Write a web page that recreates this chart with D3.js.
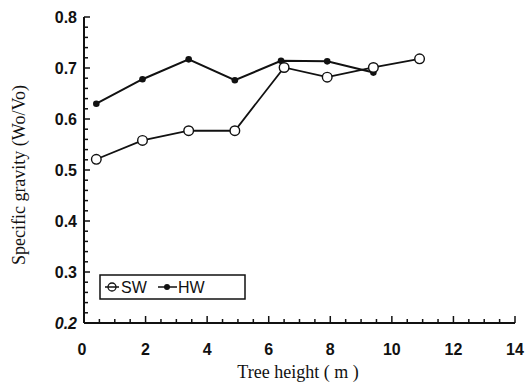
<!DOCTYPE html>
<html>
<head>
<meta charset="utf-8">
<script src="https://cdn.jsdelivr.net/npm/d3@7"></script>
<style>
  html, body { margin: 0; padding: 0; background: #fff; }
  svg { display: block; }
  .tick-label { font-family: "Liberation Sans", Arial, sans-serif; font-size: 16px; font-weight: bold; fill: #111; }
  .axis-title { font-family: "Liberation Serif", "Times New Roman", serif; font-size: 18px; fill: #111; }
  .legend-text { font-family: "Liberation Sans", Arial, sans-serif; font-size: 16px; fill: #111; }
</style>
</head>
<body>
<svg id="chart" width="526" height="385"></svg>
<script>
// Sapwood (SW) and heartwood (HW) specific gravity along tree height
const swHeight = [0.4, 1.9, 3.4, 4.9, 6.5, 7.9, 9.4, 10.9];
const swGravity = [0.521, 0.558, 0.577, 0.577, 0.701, 0.682, 0.701, 0.718];
const hwHeight = [0.4, 1.9, 3.4, 4.9, 6.4, 7.9, 9.4];
const hwGravity = [0.630, 0.678, 0.717, 0.676, 0.714, 0.713, 0.691];

const xTicks = [0, 2, 4, 6, 8, 10, 12, 14];
const yTicks = [0.2, 0.3, 0.4, 0.5, 0.6, 0.7, 0.8];
const yTickLabels = ["0.2", "0.3", "0.4", "0.5", "0.6", "0.7", "0.8"];

const svg = d3.select("#chart");
const x = d3.scaleLinear().domain([0, 14]).range([84, 515]);
const y = d3.scaleLinear().domain([0.2, 0.8]).range([323, 17]);

const ink = "#111";

// X axis: ticks point inward, minor ticks every 0.5 m
const gx = svg.append("g").attr("transform", `translate(0,${y(0.2)})`);
gx.append("line").attr("x1", x(0)).attr("x2", x(14)).attr("stroke", ink).attr("stroke-width", 2);
gx.selectAll(".mt").data(d3.range(0, 14.01, 0.5)).join("line")
  .attr("x1", d => x(d)).attr("x2", d => x(d))
  .attr("y1", 0).attr("y2", d => (Math.abs(d % 2) < 1e-6 ? -7 : -4))
  .attr("stroke", ink).attr("stroke-width", 1.5);
gx.selectAll(".tl").data(xTicks).join("text")
  .attr("class", "tick-label")
  .attr("x", d => x(d) - (d === 0 ? 2 : 0)).attr("y", 32)
  .attr("text-anchor", "middle").text(d => d);

// Y axis: minor ticks every 0.02
const gy = svg.append("g").attr("transform", `translate(${x(0)},0)`);
gy.append("line").attr("y1", y(0.2)).attr("y2", y(0.8)).attr("stroke", ink).attr("stroke-width", 2);
const yMinor = d3.range(0, 31).map(i => 0.2 + i * 0.02);
gy.selectAll(".mt").data(yMinor).join("line")
  .attr("y1", d => y(d)).attr("y2", d => y(d))
  .attr("x1", 0).attr("x2", (d, i) => (i % 5 === 0 ? 6 : 4))
  .attr("stroke", ink).attr("stroke-width", 1.5);
gy.selectAll(".tl").data(yTicks).join("text")
  .attr("class", "tick-label")
  .attr("x", -7).attr("y", d => y(d) + 6)
  .attr("text-anchor", "end")
  .attr("font-style", (d, i) => (i === 0 ? "italic" : null))
  .text((d, i) => yTickLabels[i]);

// Axis titles
svg.append("text").attr("class", "axis-title")
  .attr("x", 298).attr("y", 378).attr("text-anchor", "middle")
  .text("Tree height ( m )");
svg.append("text").attr("class", "axis-title")
  .attr("transform", "translate(25,175) rotate(-90)")
  .attr("text-anchor", "middle")
  .text("Specific gravity (Wo/Vo)");

// Series lines and markers
const line = d3.line().x(d => x(d[0])).y(d => y(d[1]));
const sw = swHeight.map((h, i) => [h, swGravity[i]]);
const hw = hwHeight.map((h, i) => [h, hwGravity[i]]);

svg.append("path").datum(hw).attr("d", line)
  .attr("fill", "none").attr("stroke", ink).attr("stroke-width", 2);
svg.append("path").datum(sw).attr("d", line)
  .attr("fill", "none").attr("stroke", ink).attr("stroke-width", 1.8);

svg.selectAll(".hw").data(hw).join("circle")
  .attr("cx", d => x(d[0])).attr("cy", d => y(d[1])).attr("r", 3.3)
  .attr("fill", ink);
svg.selectAll(".sw").data(sw).join("circle")
  .attr("cx", d => x(d[0])).attr("cy", d => y(d[1])).attr("r", 4.8)
  .attr("fill", "#fff").attr("stroke", ink).attr("stroke-width", 1.4);

// Legend
const lg = svg.append("g");
lg.append("rect").attr("x", 100).attr("y", 275).attr("width", 145).attr("height", 24)
  .attr("fill", "#fff").attr("stroke", ink).attr("stroke-width", 1.5);
lg.append("line").attr("x1", 105).attr("x2", 119).attr("y1", 287).attr("y2", 287)
  .attr("stroke", ink).attr("stroke-width", 1.5);
lg.append("circle").attr("cx", 112).attr("cy", 287).attr("r", 4)
  .attr("fill", "none").attr("stroke", ink).attr("stroke-width", 1.3);
lg.append("text").attr("class", "legend-text").attr("x", 121).attr("y", 293).text("SW");
lg.append("line").attr("x1", 158).attr("x2", 177).attr("y1", 287).attr("y2", 287)
  .attr("stroke", ink).attr("stroke-width", 1.5);
lg.append("circle").attr("cx", 167).attr("cy", 287).attr("r", 3)
  .attr("fill", ink);
lg.append("text").attr("class", "legend-text").attr("x", 178).attr("y", 293).text("HW");
</script>
</body>
</html>
